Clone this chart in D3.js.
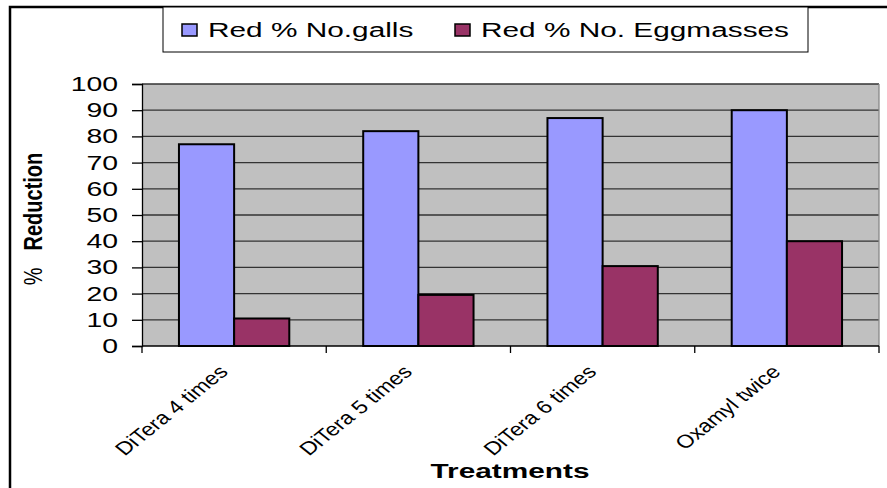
<!DOCTYPE html>
<html><head><meta charset="utf-8">
<script src="https://cdn.jsdelivr.net/npm/d3@7/dist/d3.min.js"></script>
<style>body{margin:0;background:#fff;}svg{display:block;font-family:"Liberation Sans",Arial,sans-serif;}</style>
</head><body><svg id="c" width="887" height="488"></svg>
<script>
const categories = ["DiTera 4 times","DiTera 5 times","DiTera 6 times","Oxamyl twice"];
const seriesNames = ["Red % No.galls","Red % No. Eggmasses"];
const galls = [77, 82, 87, 90];
const eggmasses = [10.5, 19.5, 30.5, 40];
const yTicks = [0,10,20,30,40,50,60,70,80,90,100];
const colors = ["#9999ff","#993366"];

const SX = 1.42; // horizontal stretch of the text in the reference
const svg = d3.select("#c");
const L = 142, R = 879, T = 84, B = 346;

// outer frame
svg.append("rect").attr("x",10).attr("y",7).attr("width",890).attr("height",500)
  .attr("fill","#fff").attr("stroke","#000").attr("stroke-width",2.5);

const x = d3.scaleBand().domain(categories).range([L,R]).paddingInner(0).paddingOuter(0);
const x1 = d3.scaleBand().domain(seriesNames).range([0, x.bandwidth()]).paddingInner(0).paddingOuter(0.67);
const y = d3.scaleLinear().domain([0,100]).range([B,T]);

// plot bg
svg.append("rect").attr("x",L).attr("y",T).attr("width",R-L).attr("height",B-T).attr("fill","#c0c0c0");
// gridlines
svg.append("g").selectAll("line").data(yTicks.filter(d=>d>0)).join("line")
  .attr("x1",L).attr("x2",R).attr("y1",d=>y(d)).attr("y2",d=>y(d))
  .attr("stroke","#333").attr("stroke-width",1.3);
svg.append("line").attr("x1",R).attr("x2",R).attr("y1",T).attr("y2",B).attr("stroke","#888").attr("stroke-width",1.3);

// y axis
const yAxis = d3.axisLeft(y).tickValues(yTicks).tickSize(10).tickPadding(14);
const gy = svg.append("g").attr("transform",`translate(${L},0)`).call(yAxis);
gy.select(".domain").attr("stroke","#000").attr("stroke-width",1.3);
gy.selectAll(".tick line").attr("stroke","#000").attr("stroke-width",1.3);
gy.selectAll(".tick text").attr("font-size",20).attr("fill","#000")
  .attr("font-family","Liberation Sans, Arial, sans-serif")
  .attr("x",-24/SX).attr("transform",`scale(${SX},1)`);

// x axis
const gx = svg.append("g").attr("transform",`translate(0,${B})`);
gx.append("line").attr("x1",L).attr("x2",R).attr("stroke","#000").attr("stroke-width",1.3);
const bounds = categories.map(c=>x(c)).concat([x(categories[categories.length-1])+x.bandwidth()]);
gx.selectAll("line.t").data(bounds).join("line").attr("class","t")
  .attr("x1",d=>d).attr("x2",d=>d).attr("y1",0).attr("y2",7).attr("stroke","#000").attr("stroke-width",1.3);
gx.selectAll("text").data(categories).join("text")
  .attr("transform",d=>`translate(${x(d)+x.bandwidth()/2-5},${27}) scale(1.25,1) rotate(-45)`)
  .attr("text-anchor","end").attr("font-size",18.5).attr("fill","#000").text(d=>d);

// bars
const data = categories.map((c,i)=>({c, vals:[galls[i], eggmasses[i]]}));
const g = svg.append("g");
data.forEach(d=>{
  d.vals.forEach((v,j)=>{
    g.append("rect").attr("x",x(d.c)+x1(seriesNames[j])).attr("width",x1.bandwidth())
      .attr("y",y(v)).attr("height",y(0)-y(v))
      .attr("fill",colors[j]).attr("stroke","#000").attr("stroke-width",2);
  });
});

// axis titles
svg.append("text").attr("transform",`translate(42,219) scale(1.25,1) rotate(-90)`).attr("text-anchor","middle")
  .attr("font-size",20).attr("fill","#000")
  .html('<tspan>%</tspan><tspan font-weight="bold" dx="17">Reduction</tspan>');
svg.append("text").attr("transform",`translate(510,478) scale(${SX},1)`).attr("text-anchor","middle")
  .attr("font-size",21).attr("font-weight","bold").attr("fill","#000").text("Treatments");

// legend
const lg = svg.append("g");
lg.append("rect").attr("x",163).attr("y",7).attr("width",645).attr("height",45)
  .attr("fill","#fff").attr("stroke","#000").attr("stroke-width",1);
const legX = [182, 455];
seriesNames.forEach((s,i)=>{
  lg.append("rect").attr("x",legX[i]).attr("y",24).attr("width",15).attr("height",12)
    .attr("fill",colors[i]).attr("stroke","#000").attr("stroke-width",1.5);
  lg.append("text").attr("transform",`translate(${legX[i]+26},37) scale(${SX},1)`)
    .attr("font-size",21).attr("fill","#000").text(s);
});
</script></body></html>
